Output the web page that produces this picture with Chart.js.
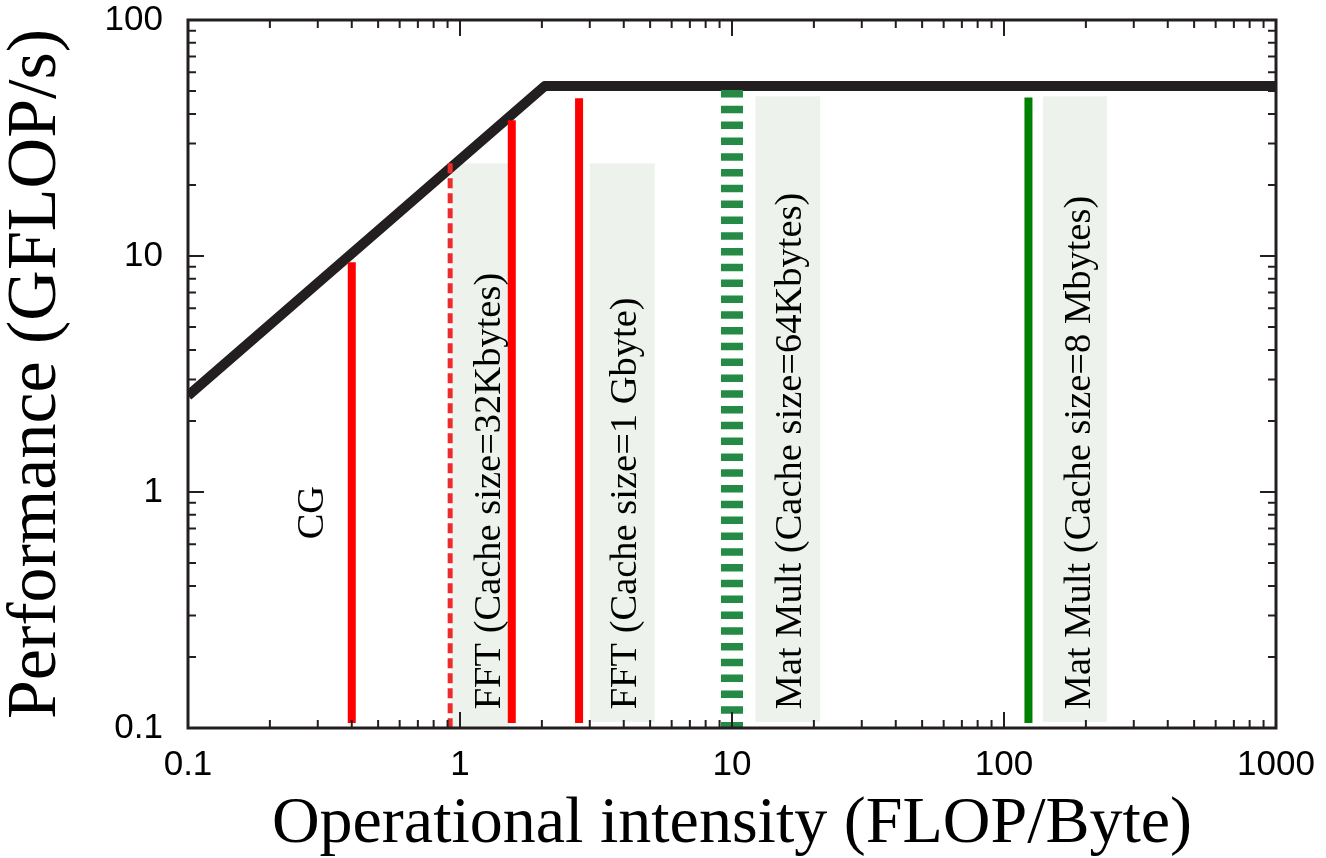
<!DOCTYPE html>
<html><head><meta charset="utf-8">
<script src="https://cdn.jsdelivr.net/npm/chart.js@4.4.0/dist/chart.umd.min.js"></script>
<style>html,body{margin:0;padding:0;background:#fff;}#wrap{width:1326px;height:858px;}</style>
</head><body><div id="wrap"><canvas id="c" width="1326" height="858"></canvas></div>
<script>
// ---- data ----
const xTickValues = [0.1, 1, 10, 100, 1000];
const xTickLabels = ['0.1', '1', '10', '100', '1000'];
const yTickValues = [0.1, 1, 10, 100];
const yTickLabels = ['0.1', '1', '10', '100'];
const minorMultipliers = [2, 3, 4, 5, 6, 7, 8, 9];

// roofline (FLOP/Byte, GFLOP/s)
const roofX = [0.1, 2.05, 1000];
const roofY = [2.56, 52.5, 52.5];

// kernel markers (vertical lines)
const kernelX      = [0.40, 0.92, 1.55, 2.74, 10.0, 123];
const kernelTop    = [9.4, 24.7, 37.6, 46.6, 50.5, 47.0];
const kernelBottom = [0.105, 0.1, 0.105, 0.105, 0.1, 0.105];

// shaded label boxes
const boxX0     = [0.93, 3.0, 12.2, 139];
const boxX1     = [1.52, 5.2, 21.1, 239];
const boxTop    = [24.7, 24.7, 47.5, 47.5];
const boxBottom = [0.1, 0.106, 0.106, 0.106];

// kernel labels (rotated)
const labelText = ['CG', 'FFT (Cache size=32Kbytes)', 'FFT (Cache size=1 Gbyte)',
                   'Mat Mult (Cache size=64Kbytes)', 'Mat Mult (Cache size=8 Mbytes)'];
const labelX = [0.288, 1.29, 4.07, 16.5, 190];
const labelY = [0.63, 0.12, 0.12, 0.12, 0.12];

// ---- styles ----
const INK = '#231f20';
const kernelStyles = [
  {color: '#ff0000', width: 8, dash: []},
  {color: '#ee2b2b', width: 5, dash: [10, 5]},
  {color: '#ff0000', width: 8, dash: []},
  {color: '#ff0000', width: 8, dash: []},
  {color: '#258a45', width: 22, dash: [7.5, 8.3]},
  {color: '#008000', width: 8, dash: []},
];

const datasets = [{
  label: 'Roofline',
  data: roofX.map((x, i) => ({x: x, y: roofY[i]})),
  borderColor: INK, borderWidth: 10, pointRadius: 0, order: 1,
  borderJoinStyle: 'round', borderCapStyle: 'butt', clip: 0, tension: 0
}];
kernelX.forEach((x, i) => {
  const s = kernelStyles[i];
  datasets.push({
    label: 'k' + i, order: 0,
    data: [{x: x, y: kernelTop[i]}, {x: x, y: kernelBottom[i]}],
    borderColor: s.color, borderWidth: s.width, borderDash: s.dash,
    pointRadius: 0, borderCapStyle: 'butt', clip: 20
  });
});

const boxesPlugin = {
  id: 'boxes',
  beforeDatasetsDraw(chart) {
    const {ctx, scales: {x, y}} = chart;
    ctx.save();
    ctx.fillStyle = '#edf2ec';
    boxX0.forEach((x0, i) => {
      const l = x.getPixelForValue(x0), r = x.getPixelForValue(boxX1[i]);
      const t = y.getPixelForValue(boxTop[i]), b = y.getPixelForValue(boxBottom[i]);
      ctx.fillRect(l, t, r - l, b - t);
    });
    ctx.restore();
  }
};

const framePlugin = {
  id: 'frame',
  afterDatasetsDraw(chart) {
    const {ctx, chartArea: a, scales: {x, y}} = chart;
    ctx.save();
    ctx.fillStyle = '#000';
    ctx.font = '38.5px "Liberation Serif"';
    ctx.textAlign = 'left';
    ctx.textBaseline = 'middle';
    labelText.forEach((t, i) => {
      ctx.save();
      ctx.translate(x.getPixelForValue(labelX[i]), y.getPixelForValue(labelY[i]));
      ctx.rotate(-Math.PI / 2);
      ctx.fillText(t, 0, 0);
      ctx.restore();
    });
    ctx.strokeStyle = INK;
    ctx.lineWidth = 2;
    ctx.beginPath();
    const xDec = xTickValues.slice(0, -1), yDec = yTickValues.slice(0, -1);
    const xt = (v, len) => {
      const p = x.getPixelForValue(v);
      ctx.moveTo(p, a.bottom); ctx.lineTo(p, a.bottom - len);
      ctx.moveTo(p, a.top); ctx.lineTo(p, a.top + len);
    };
    const yt = (v, len) => {
      const p = y.getPixelForValue(v);
      ctx.moveTo(a.left, p); ctx.lineTo(a.left + len, p);
      ctx.moveTo(a.right, p); ctx.lineTo(a.right - len, p);
    };
    xTickValues.forEach(v => xt(v, 16));
    xDec.forEach(d => minorMultipliers.forEach(m => xt(d * m, 8)));
    yTickValues.forEach(v => yt(v, 16));
    yDec.forEach(d => minorMultipliers.forEach(m => yt(d * m, 8)));
    ctx.stroke();
    ctx.lineWidth = 3;
    ctx.strokeRect(a.left, a.top, a.right - a.left, a.bottom - a.top);
    ctx.restore();
  }
};

new Chart(document.getElementById('c'), {
  type: 'line',
  data: {datasets: datasets},
  options: {
    responsive: false, animation: false, devicePixelRatio: 1,
    layout: {padding: {left: 0, right: 50, top: 20, bottom: 0}},
    plugins: {legend: {display: false}, tooltip: {enabled: false}},
    scales: {
      x: {
        type: 'logarithmic', min: 0.1, max: 1000, position: 'bottom',
        border: {display: false}, grid: {display: false, drawTicks: false},
        afterBuildTicks: s => { s.ticks = xTickValues.map(v => ({value: v, major: true})); },
        afterFit: s => { s.height = 130; s.paddingLeft = 0; s.paddingRight = 0; },
        ticks: {
          color: '#000', padding: 16, maxRotation: 0, autoSkip: false,
          font: {family: '"Liberation Sans", Arial, sans-serif', size: 35},
          callback: (v) => xTickLabels[xTickValues.indexOf(v)] ?? ''
        },
        title: {display: true, text: 'Operational intensity (FLOP/Byte)', color: '#000',
          font: {family: '"Liberation Serif", "Times New Roman", serif', size: 66, lineHeight: 1},
          padding: {top: 0, bottom: 0}}
      },
      y: {
        type: 'logarithmic', min: 0.1, max: 100, position: 'left',
        border: {display: false}, grid: {display: false, drawTicks: false},
        afterBuildTicks: s => { s.ticks = yTickValues.map(v => ({value: v, major: true})); },
        afterFit: s => { s.width = 188; s.paddingTop = 0; s.paddingBottom = 0; },
        ticks: {
          color: '#000', padding: 25, autoSkip: false,
          font: {family: '"Liberation Sans", Arial, sans-serif', size: 35},
          callback: (v) => yTickLabels[yTickValues.indexOf(v)] ?? ''
        },
        title: {display: true, text: 'Performance (GFLOP/s)', color: '#000',
          font: {family: '"Liberation Serif", "Times New Roman", serif', size: 70, lineHeight: 1},
          padding: {top: 2, bottom: 0}}
      }
    }
  },
  plugins: [boxesPlugin, framePlugin]
});
</script></body></html>
